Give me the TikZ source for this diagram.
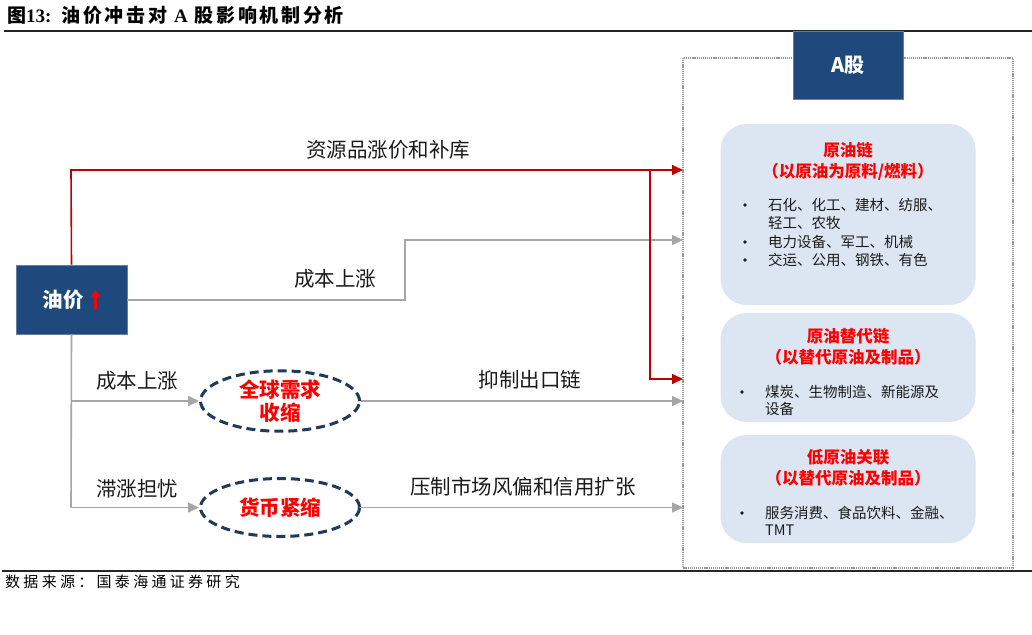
\documentclass[tikz,border=0pt]{standalone}
\usepackage{fontspec}
\setmainfont{Noto Sans CJK SC}
\newfontfamily\cjk{Noto Sans CJK SC}
\newfontfamily\latser{Liberation Serif}
\usetikzlibrary{arrows.meta,shapes.geometric}
\definecolor{navy}{HTML}{1F497D}
\definecolor{navydark}{HTML}{1F3A5A}
\definecolor{boxfill}{HTML}{DCE6F2}
\definecolor{redtxt}{HTML}{FF0000}
\definecolor{redline}{HTML}{C00000}
\definecolor{grayline}{HTML}{A6A6A6}
\definecolor{txt}{HTML}{1A1A1A}
\tikzset{
  navybox/.style={fill=navy, draw=navy!70!white, line width=0.6pt, text=white, font=\fontsize{20}{24}\selectfont\bfseries, inner sep=0pt},
  rbox/.style={fill=boxfill, draw=none, rounded corners=26pt, minimum width=255pt},
  lbl/.style={font=\fontsize{20.5}{24}\selectfont, text=txt, inner sep=0pt},
  btitle/.style={font=\fontsize{16.5}{20}\selectfont\bfseries, text=redtxt, inner sep=0pt},
  bitem/.style={font=\fontsize{14.5}{18}\selectfont, text=txt, inner sep=0pt, anchor=west},
  bdot/.style={circle, fill=txt, draw=none, minimum size=3.6pt, inner sep=0pt},
  oval/.style={ellipse, draw=navydark, line width=3pt, dash pattern=on 9pt off 5pt, minimum width=159pt, minimum height=58pt, inner sep=0pt, align=center, text=redtxt, font=\fontsize{20.5}{23}\selectfont\bfseries},
  redarrow/.style={draw=redline, line width=1.6pt, -{Triangle[length=11pt,width=10pt]}},
  grayarrow/.style={draw=grayline, line width=1.6pt, -{Triangle[length=11pt,width=10pt]}},
  grayline/.style={draw=grayline, line width=1.6pt},
}
\begin{document}
\begin{tikzpicture}[x=1pt,y=-1pt]
\useasboundingbox (0,0) rectangle (1032,634);
\fill[white] (0,0) rectangle (1032,634);
% title
\node[anchor=west, inner sep=0pt, font=\fontsize{19}{21}\selectfont\bfseries\addfontfeature{LetterSpace=14}, text=black] (title) at (7,15) {图{\latser\bfseries 13:}\hspace{10pt}油价冲击对 {\latser\bfseries A} 股影响机制分析};
\draw[line width=2pt, draw=black!85] (4,31) -- (1032,31);
% footer
\draw[line width=2pt, draw=black!85] (2,571) -- (1032,571);
\node[anchor=west, inner sep=0pt, font=\fontsize{15}{17}\selectfont\addfontfeature{LetterSpace=22}, text=black] (src) at (5,582) {数据来源：国泰海通证券研究};
% dotted frame
\draw[draw=gray!80, line width=1.2pt, dash pattern=on 1.2pt off 0.9pt] (683,58) rectangle (1013,568);
\node[navybox, minimum width=110pt, minimum height=68pt] (ag) at (848,65) {A股};
% right boxes
\node[rbox, minimum height=181pt] (b1) at (848,214.5) {};
\node[rbox, minimum height=109pt] (b2) at (848,367.5) {};
\node[rbox, minimum height=108pt] (b3) at (848,489) {};
\node[btitle] (b1t1) at (848,150) {原油链};
\node[btitle] (b1t2) at (848,171.5) {（以原油为原料/燃料）};
\node[bdot] (b1d1) at (745,205) {};
\node[bitem] (b1i1) at (768,205) {石化、化工、建材、纺服、};
\node[bitem] (b1i2) at (768,223) {轻工、农牧};
\node[bdot] (b1d2) at (745,242) {};
\node[bitem] (b1i3) at (768,242) {电力设备、军工、机械};
\node[bdot] (b1d3) at (745,260) {};
\node[bitem] (b1i4) at (768,260) {交运、公用、钢铁、有色};
\node[btitle] (b2t1) at (848,336) {原油替代链};
\node[btitle] (b2t2) at (848,357) {（以替代原油及制品）};
\node[bdot] (b2d1) at (742,392) {};
\node[bitem] (b2i1) at (765,392) {煤炭、生物制造、新能源及};
\node[bitem] (b2i2) at (765,409) {设备};
\node[btitle] (b3t1) at (848,457) {低原油关联};
\node[btitle] (b3t2) at (848,478.5) {（以替代原油及制品）};
\node[bdot] (b3d1) at (742,513) {};
\node[bitem] (b3i1) at (765,513) {服务消费、食品饮料、金融、};
\node[bitem] (b3i2) at (765,530) {TMT};
% oil box
\node[navybox, minimum width=111pt, minimum height=69pt] (oil) at (71.5,299.5) {};
\node[inner sep=0pt, text=white, font=\fontsize{20.5}{24}\selectfont\bfseries] (oiltxt) at (63,300) {油价};
\coordinate (upb) at (95.5,309);
\coordinate (upt) at (95.5,290);
\draw[draw=redtxt, line width=3.6pt, -{Triangle[length=6.5pt,width=9.5pt]}] (upb) -- (upt);
% ellipses
\node[oval] (e1) at (280,401) {全球需求\\收缩};
\node[oval] (e2) at (280,507.5) {货币紧缩};
% frame entry coordinates
\coordinate (in1) at (683,170);
\coordinate (in2) at (683,240);
\coordinate (in3) at (683,379);
\coordinate (in4) at (683,401);
\coordinate (in5) at (683,507.5);
\coordinate (rtop) at (71,170);
\coordinate (rj) at (650,170);
\coordinate (rb) at (650,379);
\coordinate (g1) at (405,300);
\coordinate (g2) at (405,240);
\coordinate (v1) at (71,401);
\coordinate (v2) at (71,507.5);
% connectors
\draw[grayarrow] (oil.east |- oiltxt) -- (g1) -- (g2) -- (in2);
\draw[grayline] (oil.south) -- (v2);
\draw[grayarrow] (v1) -- (e1.west);
\draw[grayarrow] (v2) -- (e2.west);
\draw[grayarrow] (e1.east) -- (in4);
\draw[grayarrow] (e2.east) -- (in5);
\draw[redarrow] (oil.north) -- (rtop) -- (in1);
\draw[redarrow] (rj) -- (rb) -- (in3);
% labels
\node[lbl] (l1) at (388,150) {资源品涨价和补库};
\node[lbl] (l2) at (335,279) {成本上涨};
\node[lbl] (l3) at (137,381) {成本上涨};
\node[lbl] (l4) at (137,489) {滞涨担忧};
\node[lbl] (l5) at (530,380) {抑制出口链};
\node[lbl] (l6) at (523,487) {压制市场风偏和信用扩张};
\end{tikzpicture}
\end{document}
